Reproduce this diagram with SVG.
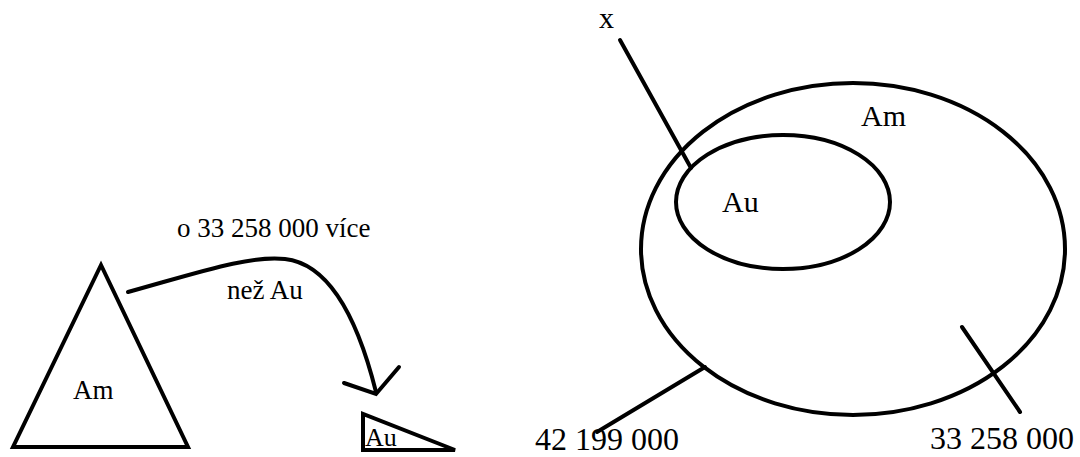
<svg xmlns="http://www.w3.org/2000/svg" width="1080" height="457" viewBox="0 0 1080 457">
<style>
.s{fill:none;stroke:#000;stroke-width:4;stroke-linecap:round;stroke-linejoin:miter}
.w{fill:#fff;stroke:#000;stroke-width:4}
.t{font-family:'Liberation Serif','Times New Roman','DejaVu Serif',serif;fill:#000}
</style>
<rect width="1080" height="457" fill="#fff"/>
<g id="am-triangle">
<polygon class="w" points="101,265 13,447 188,447"/>
<text class="t" x="73" y="399" font-size="27">Am</text>
</g>
<g id="au-triangle">
<polygon class="w" points="363,414 363,450 455,450"/>
<text class="t" x="365" y="446" font-size="26">Au</text>
</g>
<g id="connectors">
<path class="s" d="M128,292 C200,272 250,255 285,259 C330,264 358,320 376,392"/>
<polyline class="s" points="344,383 376,394 399,367"/>
<line class="s" x1="620" y1="40" x2="691" y2="168"/>
<line class="s" x1="597" y1="432" x2="705" y2="367"/>
<line class="s" x1="962" y1="327" x2="1020" y2="412"/>
</g>
<g id="labels">
<text class="t" x="177" y="237" font-size="27">o 33 258 000 více</text>
<text class="t" x="227" y="299" font-size="27">než Au</text>
</g>
<g id="am-ellipse">
<ellipse class="s" cx="853" cy="249" rx="212" ry="166"/>
<text class="t" x="861" y="126" font-size="30">Am</text>
</g>
<g id="au-ellipse">
<ellipse class="s" cx="783" cy="202" rx="107" ry="67"/>
<text class="t" x="722" y="212" font-size="30">Au</text>
</g>
<g id="x-label"><text class="t" x="599" y="28" font-size="30">x</text></g>
<g id="v42"><text class="t" x="535" y="450" font-size="32">42 199 000</text></g>
<g id="v33"><text class="t" x="930" y="449" font-size="32">33 258 000</text></g>
</svg>
